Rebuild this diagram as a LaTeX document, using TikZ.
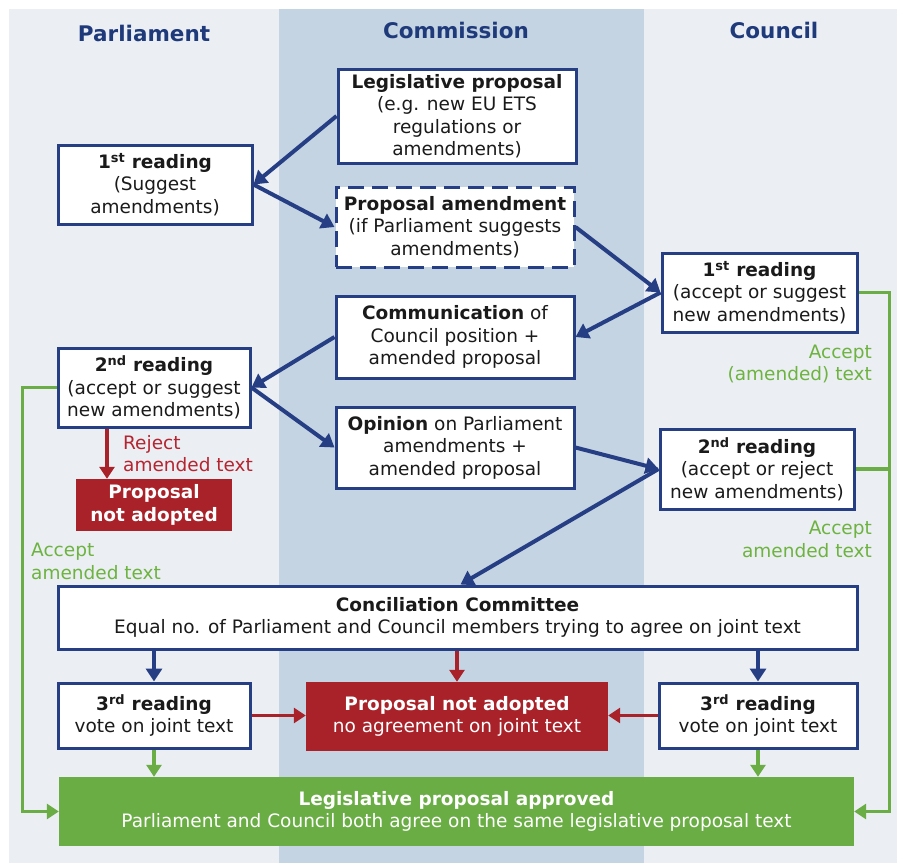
\documentclass[tikz,border=0pt]{standalone}
\usepackage{fontspec}
\setmainfont{DejaVu Sans}
\usetikzlibrary{arrows.meta,calc}
\definecolor{bgl}{HTML}{EBEEF3}
\definecolor{bgm}{HTML}{C5D4E2}
\definecolor{navy}{HTML}{263E83}
\definecolor{ttl}{HTML}{1F3A7A}
\definecolor{redb}{HTML}{A92229}
\definecolor{redt}{HTML}{B5242F}
\definecolor{grn}{HTML}{6AAD45}
\definecolor{grnt}{HTML}{6DB33F}
\definecolor{txt}{HTML}{1A1A1A}
\newcommand\myfs{\fontsize{18.5}{22.5}\selectfont}
\newcommand\myts{\fontsize{21.5}{25}\selectfont\bfseries}
\begin{document}
\begin{tikzpicture}[x=1pt,y=-1pt,
  box/.style={draw=navy, line width=3pt, fill=white, inner sep=0pt, align=center, text=txt, font=\myfs},
  redbox/.style={fill=redb, inner sep=0pt, align=center, text=white, font=\myfs},
  grnbox/.style={fill=grn, inner sep=0pt, align=center, text=white, font=\myfs},
  title/.style={text=ttl, font=\myts},
  navarrow/.style={draw=navy, line width=4pt, -{Triangle[length=13pt,width=16pt]}},
  redarrow/.style={draw=redb, line width=3.5pt, -{Triangle[length=12pt,width=15pt]}},
  grnarrow/.style={draw=grn, line width=3.5pt, -{Triangle[length=12pt,width=15pt]}},
  grnline/.style={draw=grn, line width=3.5pt},
  redlbl/.style={text=redt, font=\myfs, align=left, inner sep=0pt},
  grnlbl/.style={text=grnt, font=\myfs, inner sep=0pt}
]
\useasboundingbox (0,0) rectangle (897,863);
\fill[bgl] (9,9) rectangle (897,863);
\fill[bgm] (279,9) rectangle (644,863);

\node[title] (tp) at (144,33) {Parliament};
\node[title] (tm) at (456,30) {Commission};
\node[title] (tc) at (774,30) {Council};

\node[box, minimum width=238pt, minimum height=94pt] (leg) at (457,116)
  {\textbf{Legislative proposal}\\(e.g. new EU ETS\\regulations or\\amendments)};
\node[box, minimum width=194pt, minimum height=79pt] (p1) at (155,184.5)
  {\textbf{1\textsuperscript{st} reading}\\(Suggest\\amendments)};
\node[box, dash pattern=on 16pt off 8pt, minimum width=238pt, minimum height=80pt] (pam) at (455,227)
  {\textbf{Proposal amendment}\\(if Parliament suggests\\amendments)};
\node[box, minimum width=195pt, minimum height=79pt] (c1) at (759.5,292.5)
  {\textbf{1\textsuperscript{st} reading}\\(accept or suggest\\new amendments)};
\node[box, minimum width=238pt, minimum height=82pt] (comm) at (455,337)
  {\textbf{Communication} of\\Council position +\\amended proposal};
\node[box, minimum width=192pt, minimum height=79pt] (p2) at (154,387.5)
  {\textbf{2\textsuperscript{nd} reading}\\(accept or suggest\\new amendments)};
\node[box, minimum width=238pt, minimum height=81pt] (op) at (455,447.5)
  {\textbf{Opinion} on Parliament\\amendments +\\amended proposal};
\node[box, minimum width=194pt, minimum height=80pt] (c2) at (757,469)
  {\textbf{2\textsuperscript{nd} reading}\\(accept or reject\\new amendments)};
\node[redbox, minimum width=156pt, minimum height=52pt] (rej1) at (154,505)
  {\textbf{Proposal}\\\textbf{not adopted}};
\node[box, minimum width=799pt, minimum height=63pt] (conc) at (457.5,617.5)
  {\textbf{Conciliation Committee}\\Equal no. of Parliament and Council members trying to agree on joint text};
\node[box, minimum width=192pt, minimum height=65pt] (p3) at (154,715.5)
  {\textbf{3\textsuperscript{rd} reading}\\vote on joint text};
\node[redbox, minimum width=302pt, minimum height=69pt] (rej2) at (457,716.5)
  {\textbf{Proposal not adopted}\\no agreement on joint text};
\node[box, minimum width=198pt, minimum height=65pt] (c3) at (758,715.5)
  {\textbf{3\textsuperscript{rd} reading}\\vote on joint text};
\node[grnbox, minimum width=795pt, minimum height=69pt] (appr) at (456.5,811.5)
  {\textbf{Legislative proposal approved}\\Parliament and Council both agree on the same legislative proposal text};

% labels
\node[redlbl, anchor=west] (lrej) at (123,453.5) {Reject\\amended text};
\node[grnlbl, anchor=west, align=left] (lacc1) at (31,561.5) {Accept\\amended text};
\node[grnlbl, anchor=east, align=right] (lacc2) at (872,364) {Accept\\(amended) text};
\node[grnlbl, anchor=east, align=right] (lacc3) at (872,539.5) {Accept\\amended text};

% navy arrows
\draw[navarrow] (leg.west) -- (p1.east);
\draw[navarrow] (p1.east) -- (pam.west);
\draw[navarrow] (pam.east) -- (c1.west);
\draw[navarrow] (c1.west) -- (comm.east);
\draw[navarrow] (comm.west) -- (p2.east);
\draw[navarrow] (p2.east) -- (op.west);
\draw[navarrow] (op.east) -- (c2.west);
\draw[navarrow] (c2.west) -- ($(conc.north)+(3,0)$);
\draw[navarrow] (p3.north |- conc.south) -- (p3.north);
\draw[navarrow] (c3.north |- conc.south) -- (c3.north);

% red arrows
\coordinate (rx) at (107,0);
\draw[redarrow] (rx |- p2.south) -- (rx |- rej1.north);
\draw[redarrow] (rej2.north |- conc.south) -- (rej2.north);
\draw[redarrow] (p3.east) -- (rej2.west |- p3.east);
\draw[redarrow] (c3.west) -- (rej2.east |- c3.west);

% green arrows
\draw[grnarrow] (p3.south) -- (p3.south |- appr.north);
\draw[grnarrow] (c3.south) -- (c3.south |- appr.north);
\draw[grnarrow] (p2.west) -- ++(-34,0) |- (appr.west);
\draw[grnarrow] (c1.east) -- ++(31,0) coordinate (gr) |- (appr.east);
\draw[grnline] (c2.east) -- (gr |- c2.east);
\end{tikzpicture}
\end{document}
